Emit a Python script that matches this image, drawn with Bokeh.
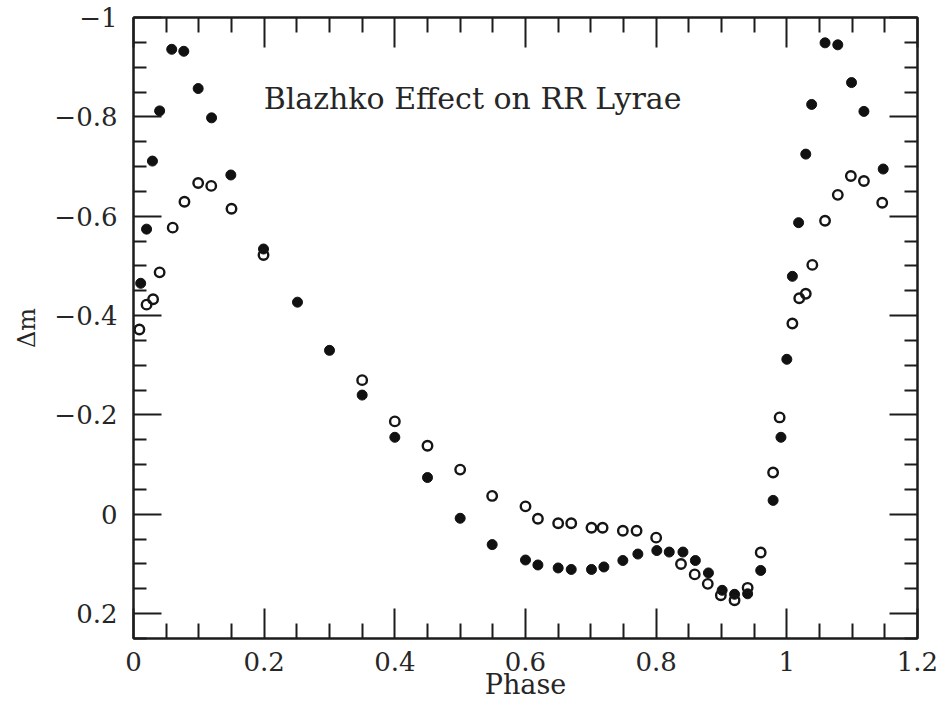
from bokeh.plotting import figure
from bokeh.models import Range1d, FixedTicker, LinearAxis, Label
from bokeh.embed import file_html
from bokeh.resources import INLINE

# ---- data ----
filled_phase = [0.011, 0.020, 0.029, 0.040, 0.0585, 0.077, 0.099, 0.1195, 0.149, 0.199,
                0.251, 0.300, 0.350, 0.400, 0.450, 0.500, 0.549, 0.600, 0.619, 0.650,
                0.670, 0.701, 0.720, 0.749, 0.772, 0.801, 0.820, 0.841, 0.860, 0.880,
                0.901, 0.920, 0.940, 0.960, 0.979, 0.991, 1.000, 1.0085, 1.018, 1.029,
                1.038, 1.0585, 1.078, 1.099, 1.118, 1.1475]
filled_dm = [-0.465, -0.574, -0.711, -0.812, -0.936, -0.932, -0.857, -0.798, -0.683, -0.534,
             -0.427, -0.330, -0.240, -0.155, -0.074, 0.008, 0.061, 0.092, 0.102, 0.108,
             0.111, 0.111, 0.106, 0.093, 0.080, 0.073, 0.076, 0.076, 0.093, 0.118,
             0.153, 0.161, 0.160, 0.113, -0.028, -0.155, -0.312, -0.479, -0.587, -0.725,
             -0.825, -0.949, -0.945, -0.869, -0.811, -0.695]

open_phase = [0.009, 0.020, 0.030, 0.040, 0.060, 0.078, 0.099, 0.119, 0.150, 0.199,
              0.350, 0.400, 0.450, 0.500, 0.549, 0.600, 0.619, 0.650, 0.670, 0.701,
              0.718, 0.749, 0.770, 0.800, 0.838, 0.859, 0.879, 0.899, 0.920, 0.940,
              0.960, 0.979, 0.989, 1.0085, 1.019, 1.029, 1.039, 1.0585, 1.078, 1.098,
              1.118, 1.146]
open_dm = [-0.372, -0.422, -0.433, -0.487, -0.577, -0.629, -0.667, -0.661, -0.615, -0.522,
           -0.270, -0.187, -0.138, -0.090, -0.037, -0.016, 0.009, 0.018, 0.018, 0.027,
           0.027, 0.033, 0.033, 0.047, 0.100, 0.121, 0.140, 0.163, 0.173, 0.148,
           0.077, -0.084, -0.195, -0.384, -0.435, -0.444, -0.502, -0.591, -0.643, -0.681,
           -0.671, -0.627]

x_tick_values = [0, 0.2, 0.4, 0.6, 0.8, 1.0, 1.2]
x_tick_labels = ["0", "0.2", "0.4", "0.6", "0.8", "1", "1.2"]
x_minor_values = [0.05, 0.1, 0.15, 0.25, 0.3, 0.35, 0.45, 0.5, 0.55, 0.65, 0.7, 0.75,
                  0.85, 0.9, 0.95, 1.05, 1.1, 1.15]
y_tick_values = [-1.0, -0.8, -0.6, -0.4, -0.2, 0, 0.2]
y_tick_labels = ["\u22121", "\u22120.8", "\u22120.6", "\u22120.4", "\u22120.2", "0", "0.2"]
y_minor_values = [-0.95, -0.9, -0.85, -0.75, -0.7, -0.65, -0.55, -0.5, -0.45, -0.35, -0.3,
                  -0.25, -0.15, -0.1, -0.05, 0.05, 0.1, 0.15, 0.25]

title_text = "Blazhko Effect on RR Lyrae"
x_label = "Phase"
y_label = "\u0394m"

INK = "#1c1c1c"
TXT = "#262626"

p = figure(width=939, height=703, x_range=Range1d(0, 1.2), y_range=Range1d(0.25, -1.0),
           output_backend="svg", toolbar_location=None,
           min_border_left=133, min_border_right=22, min_border_top=17, min_border_bottom=65)
p.xgrid.visible = False
p.ygrid.visible = False
p.outline_line_color = INK
p.outline_line_width = 2
p.background_fill_color = "white"
p.border_fill_color = "white"

xt = FixedTicker(ticks=x_tick_values, minor_ticks=x_minor_values)
yt = FixedTicker(ticks=y_tick_values, minor_ticks=y_minor_values)


def style(ax, major, minor):
    ax.axis_line_color = INK
    ax.axis_line_width = 2
    ax.major_tick_in = major
    ax.major_tick_out = 0
    ax.minor_tick_in = minor
    ax.minor_tick_out = 0
    ax.major_tick_line_color = INK
    ax.minor_tick_line_color = INK
    ax.major_tick_line_width = 2
    ax.minor_tick_line_width = 2
    ax.major_label_text_font = "DejaVu Serif"
    ax.major_label_text_font_size = "26px"
    ax.major_label_text_color = TXT
    ax.axis_label_text_font = "DejaVu Serif"
    ax.axis_label_text_font_style = "normal"
    ax.axis_label_text_color = TXT


xa = p.xaxis[0]
xa.ticker = xt
style(xa, 30, 15)
xa.major_label_overrides = {v: s for v, s in zip(x_tick_values, x_tick_labels)}
xa.major_label_standoff = 13
xa.axis_label = x_label
xa.axis_label_text_font_size = "27px"
xa.axis_label_standoff = -5

ya = p.yaxis[0]
ya.ticker = yt
style(ya, 28, 13)
ya.major_label_overrides = {v: s for v, s in zip(y_tick_values, y_tick_labels)}
ya.major_label_standoff = 16
ya.axis_label = y_label
ya.axis_label_text_font_size = "24px"
ya.axis_label_standoff = 10

top = LinearAxis(ticker=xt)
style(top, 30, 15)
top.major_label_overrides = {v: "" for v in x_tick_values}
top.major_label_text_font_size = "8px"
top.major_label_standoff = 0
p.add_layout(top, "above")

right = LinearAxis(ticker=yt)
style(right, 28, 13)
right.major_label_overrides = {v: "" for v in y_tick_values}
right.major_label_text_font_size = "8px"
right.major_label_standoff = 0
p.add_layout(right, "right")

p.scatter(filled_phase, filled_dm, marker="circle", size=10,
          fill_color="#111111", line_color="#111111", line_width=1)
p.scatter(open_phase, open_dm, marker="circle", size=9.5,
          fill_alpha=0, line_color="#151515", line_width=2.4)

p.add_layout(Label(x=0.1993, y=-0.836, text=title_text, text_font="DejaVu Serif",
                   text_font_size="30px", text_color=TXT,
                   text_baseline="alphabetic", text_align="left"))

open("out.html", "w").write(file_html(p, INLINE))
